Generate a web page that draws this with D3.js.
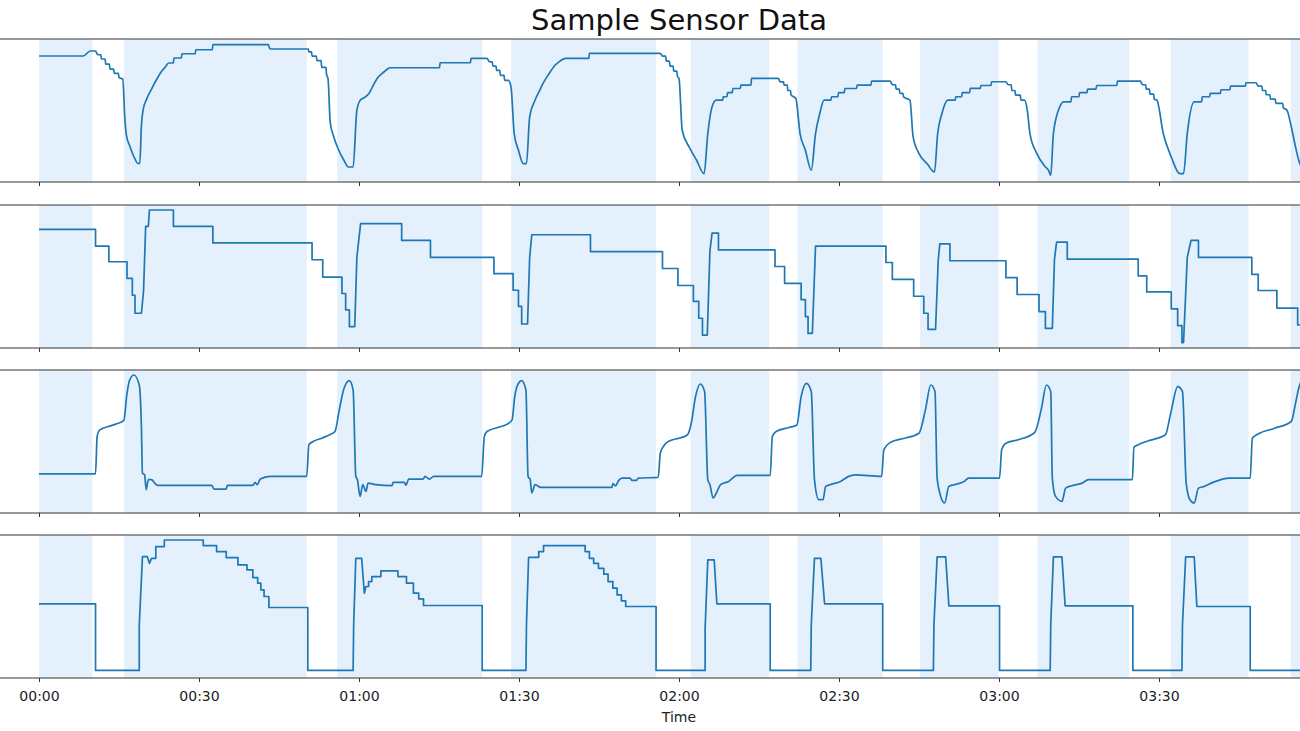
<!DOCTYPE html>
<html>
<head>
<meta charset="utf-8">
<script src="https://d3js.org/d3.v7.min.js"></script>
<style>
  body { margin: 0; background: #fff; }
  svg { display: block; font-family: "DejaVu Sans", sans-serif; }
</style>
</head>
<body>
<div id="chart"></div>
<script>

// time in minutes since 00:00, values in arbitrary sensor units (0-100)
var shadedSpans = [[0,10.0],[15.9,50.2],[55.9,83.1],[88.5,115.7],[122.2,136.9],[142.2,158.2],
                   [165.2,179.9],[187.2,204.4],[212.2,226.8],[234.7,240]];

var tickMinutes = [0, 30, 60, 90, 120, 150, 180, 210];
var tickLabels = ["00:00","00:30","01:00","01:30","02:00","02:30","03:00","03:30"];

var sensor1 = [[0,88.1],[8.3,88.1],[9.6,91.6],[10.6,91.6],[11.0,89],[11.6,89],[11.7,86],[12.4,86],[12.5,82.5],[13.2,82.5],[13.3,79],[14.0,79],[14.1,76],[14.9,76],[15.0,73],[15.7,72],
  [16.1,44],[16.4,32.4],[17.0,25.4],[18.0,16.1],[18.5,13.0],[18.9,13.0],
  [19.2,39.4],[19.5,49.9],[20.2,58.1],[21.1,65.0],[22.1,72.0],[23.0,77.4],[23.7,80.5],[24.3,83.2],[25.2,83.2],[25.3,86.7],[26.7,86.7],[26.8,89.7],[29.3,89.7],[29.4,92.5],[32.5,92.5],[32.6,96.0],[43.0,96.0],[43.3,93.0],[50.5,93.0],
  [50.6,91],[51.1,91],[51.2,88],[52.0,88],[52.1,84.9],[52.9,84.9],[53.0,80.2],[53.8,80.2],[53.9,75.6],[54.2,72.0],
  [54.6,41.7],[55.2,32.4],[56.1,23.1],[57.2,15],[58.0,10.5],[58.9,10.5],
  [59.6,50.2],[60.3,57.5],[61.0,59],[61.9,62],[62.6,67],[63.4,72.4],[64.2,75.5],[65.0,78],[65.8,79.9],[75.1,79.9],[75.2,83.4],[80.9,83.4],[81.0,86.4],[84.0,86.4],
  [84.5,84],[85.0,84],[85.1,81],[85.7,81],[85.8,78],[86.4,78],[86.5,74.5],[87.2,74.5],[87.3,71],[88.0,71],[88.5,66.6],
  [89.1,33.9],[89.9,22.2],[90.8,12.9],[91.4,12.9],
  [92.0,45.6],[93.0,57.2],[94.0,65],[94.5,68.9],[95.5,75],[96.8,81.8],[97.5,84],[98.8,86.4],[103.1,86.4],[103.2,90.0],[116.5,90.0],
  [116.9,88],[117.5,88],[117.6,84.5],[118.2,84.5],[118.3,81],[118.9,81],[119.0,77.5],[119.6,77.5],[119.7,74],[120.0,72.4],
  [120.6,36.2],[121.9,24.5],[123.3,15.2],[124.7,5.8],
  [125.4,33.9],[126.2,52.6],[127.0,57.2],[128.2,57.2],[128.3,59.6],[129.0,59.6],[129.1,62.5],[130.0,62.5],[130.1,65.4],[131.5,65.4],[131.6,67.8],[133.5,67.8],[133.6,72.4],[138.6,72.4],
  [139.0,70],[139.6,70],[139.7,67.8],[140.3,67.8],[140.4,64],[140.9,64],[141.0,61],[141.9,58.4],
  [142.7,33.9],[143.7,22.2],[144.8,8.2],
  [145.6,33.9],[146.4,47.9],[147.2,57.2],[148.5,57.2],[148.6,59.6],[149.8,59.6],[149.9,62.5],[151.0,62.5],[151.1,65.4],[153.3,65.4],[153.4,67.8],[156.0,67.8],[156.1,70.6],[159.6,70.6],
  [160.0,68],[160.6,68],[160.7,65],[161.3,65],[161.4,62],[162.0,62],[162.1,59.5],[163.3,57.2],
  [163.9,31.5],[165.0,19.9],[166.5,12.9],[167.9,7.0],
  [168.5,33.9],[169.3,47.9],[170.4,57.2],[171.8,57.2],[171.9,59.6],[173.0,59.6],[173.1,62.5],[174.5,62.5],[174.6,65.5],[176.5,65.5],[176.6,67.5],[178.5,67.5],[178.6,70.1],[181.3,70.1],
  [181.7,68],[182.3,68],[182.4,64],[183.0,64],[183.1,60.7],[184.0,60.7],[184.1,57.2],[184.8,57.2],[185.3,50.2],
  [185.8,33.9],[187.1,19.9],[188.7,10.5],[189.3,8],[189.7,4.7],
  [190.2,33.9],[191.4,52.6],[192.1,56.1],[193.5,56.1],[193.6,59.6],[195.0,59.6],[195.1,62.5],[196.5,62.5],[196.6,65],[198.2,65],[198.3,67.5],[202.1,67.5],[202.2,70.6],[206.5,70.6],
  [206.9,68],[207.5,68],[207.6,65],[208.2,65],[208.3,61.4],[209.0,61.4],[209.1,58],[209.6,57.2],
  [210.8,33.9],[212.3,17.5],[213.9,5.8],[214.6,5.8],
  [215.3,33.9],[216.6,56.1],[218.0,56.1],[218.1,59.6],[219.5,59.6],[219.6,62],[221.5,62],[221.6,64.5],[223.3,64.5],[223.4,67],[226.2,67],[226.3,69.4],[228.2,69.4],
  [228.6,67],[229.3,67],[229.4,64],[230.0,64],[230.1,61],[230.8,61],[230.9,58],[231.8,58],[231.9,55],[233.2,55],[233.3,52],[234.0,50.2],[234.8,38.6],[235.6,24.5],[236.2,15.2],[237,8]];

var sensor2 = [[0,83],[10.6,83],[10.6,71.2],[13.1,71.2],[13.1,60.3],[16.5,60.3],[16.5,48.7],[17.5,48.7],[17.5,36.9],[18.0,36.9],[18.0,24.3],[19.2,24.3],[19.6,39.7],[20.0,85.1],[20.5,85.1],[20.7,96.5],[25.2,96.5],[25.2,85.1],[32.6,85.1],[32.6,73.5],[51.2,73.5],[51.2,61.7],[53.2,61.7],[53.2,49.6],[56.8,49.6],[56.8,38.1],[57.5,38.1],[57.5,26.7],[58.2,26.7],[58.2,14.9],[59.2,14.9],[59.6,63.4],[60.3,87.0],[68.0,87.0],[68.0,75.2],[73.4,75.2],[73.4,63.4],[85.3,63.4],[85.3,52.0],[88.9,52.0],[88.9,40.4],[89.9,40.4],[89.9,29.1],[90.5,29.1],[90.5,16.8],[91.6,16.8],[92.0,63.4],[92.4,79.2],[103.4,79.2],[103.4,67.4],[116.9,67.4],[116.9,55.6],[119.8,55.6],[119.8,43.7],[122.7,43.7],[122.7,32.6],[123.7,32.6],[123.7,20.8],[124.4,20.8],[124.4,9.0],[125.3,9.0],[125.8,68.1],[126.2,80.4],[127.4,80.4],[127.4,68.6],[138.0,68.6],[138.0,57.0],[139.8,57.0],[139.8,45.2],[142.9,45.2],[142.9,33.8],[143.7,33.8],[143.7,22.0],[144.2,22.0],[144.2,10.2],[145.0,10.2],[145.6,71.2],[158.8,71.2],[158.8,59.8],[160.0,59.8],[160.0,48.0],[164.0,48.0],[164.0,36.2],[165.9,36.2],[165.9,24.3],[166.7,24.3],[166.7,13.0],[168.1,13.0],[168.6,61.0],[168.9,72.8],[170.8,72.8],[170.8,61.0],[181.3,61.0],[181.3,49.2],[183.4,49.2],[183.4,37.4],[187.5,37.4],[187.5,25.5],[188.7,25.5],[188.7,13.7],[190.0,13.7],[190.4,62.2],[190.8,74.0],[192.8,74.0],[192.8,62.2],[206.1,62.2],[206.1,50.4],[207.7,50.4],[207.7,39.2],[212.3,39.2],[212.3,27.4],[213.5,27.4],[213.5,15.6],[214.3,15.6],[214.3,3.8],[214.6,3.8],[215.3,63.4],[216.0,75.2],[217.4,75.2],[217.4,63.4],[227.4,63.4],[227.4,51.5],[228.6,51.5],[228.6,40.2],[232.1,40.2],[232.1,27.9],[236.0,27.9],[236.0,16.1],[240,16.1]];

var sensor3 = [[0,27.4],[10.6,27.4],[10.9,53.5],[11.4,58.1],[13.0,60.5],[14.5,62.3],[15.9,64.7],[16.5,83.7],[17.0,93.0],[17.8,96.5],[18.8,89.5],[19.2,60.5],[19.4,27.9],[19.8,26.7],[20.1,16.3],[20.5,23.3],[21.1,23.3],[21.7,20.9],[22.3,19.3],[32.4,19.3],[32.8,16.7],[35.1,16.7],[35.3,19.3],[40.1,19.3],[40.5,21.4],[40.9,19.8],[41.5,23.7],[43.3,25.6],[50.2,25.6],[50.6,47.7],[51.4,50.0],[53.0,52.3],[54.5,54.7],[55.5,57.0],[56.3,72.1],[57.2,87.2],[58.2,92.6],[58.9,86.0],[59.4,25.6],[59.7,23.3],[60.2,11.6],[60.7,19.8],[61.3,15.1],[61.7,20.9],[63.1,19.8],[66.2,19.1],[66.4,21.4],[68.5,21.4],[68.8,19.4],[69.3,23.7],[72.0,23.7],[72.4,25.6],[73.2,23.7],[74.0,25.6],[83.0,25.6],[83.5,53.5],[84.0,57.0],[86.0,59.8],[87.9,62.3],[88.7,65.1],[89.2,81.4],[89.9,90.7],[90.5,92.6],[91.3,86.0],[91.7,25.6],[92.1,23.3],[92.4,14.0],[93.0,19.8],[94.1,17.9],[107.4,17.9],[107.6,20.5],[108.1,19.0],[108.7,22.8],[109.3,24.4],[110.8,24.4],[111.2,22.8],[112.0,22.8],[112.4,24.4],[116.1,24.9],[116.5,41.9],[117.3,47.7],[118.4,50.7],[120.0,52.3],[121.6,54.7],[122.3,62.8],[123.1,81.4],[124.0,90.2],[124.8,84.9],[125.4,23.3],[125.8,19.8],[126.4,10.5],[127.0,14.0],[127.8,19.8],[129.3,22.1],[130.9,26.3],[137.1,26.3],[137.5,53.5],[138.2,57.0],[140.6,59.8],[142.1,61.6],[142.9,81.4],[143.9,90.7],[144.8,84.9],[145.4,23.3],[146.2,9.3],[147.0,9.3],[147.5,18.6],[148.3,19.8],[150.3,22.1],[151.8,25.6],[153.0,26.7],[158.0,25.6],[158.4,44.2],[159.6,49.3],[162.3,52.3],[165.0,55.8],[166.2,72.1],[167.2,89.5],[168.0,84.9],[168.4,24.4],[168.9,14.0],[169.8,7.0],[170.6,18.6],[171.6,19.8],[173.5,22.1],[174.3,24.4],[180.1,24.4],[180.5,44.2],[181.3,48.8],[183.6,51.2],[186.7,56.3],[187.9,72.1],[188.9,89.5],[189.7,84.9],[190.0,24.4],[190.6,11.6],[191.8,8.1],[192.5,17.4],[193.7,19.1],[195.6,20.9],[196.8,23.3],[205.0,23.3],[205.3,46.0],[206.1,47.7],[208.0,50.5],[211.2,54.7],[212.2,69.8],[213.5,88.4],[214.4,84.9],[215.1,20.9],[215.8,9.3],[216.6,7.0],[217.4,17.4],[218.5,18.6],[220.1,21.4],[223.2,24.4],[227.1,24.4],[227.5,52.3],[228.6,55.3],[231.7,59.3],[234.8,64.0],[235.6,76.7],[236.2,87.2],[237.0,95.0]];

var sensor4 = [[0,51.9],[10.6,51.9],[10.6,5.3],[18.8,5.3],[18.8,37.2],[19.4,84.9],[20.3,84.9],[20.7,80.2],[21.1,83.7],[21.9,83.7],[21.9,91.9],[23.5,91.9],[23.5,96.5],[30.8,96.5],[30.8,92.6],[33.3,92.6],[33.3,88.4],[35.1,88.4],[35.1,84.2],[37.3,84.2],[37.3,79.1],[39.0,79.1],[39.0,75.6],[40.1,75.6],[40.1,70.2],[41.0,70.2],[41.0,66.3],[41.6,66.3],[41.6,61.6],[42.2,61.6],[42.2,57.0],[43.1,57.0],[43.1,49.3],[50.4,49.3],[50.4,5.3],[58.9,5.3],[59.0,37.2],[59.4,83.7],[60.5,83.7],[61.0,59.3],[61.3,64.0],[61.8,64.0],[61.8,67.4],[62.4,67.4],[62.4,70.9],[64.1,70.9],[64.1,74.9],[67.3,74.9],[67.3,70.9],[68.9,70.9],[68.9,66.3],[70.2,66.3],[70.2,59.3],[71.2,59.3],[71.2,55.3],[72.1,55.3],[72.1,50.7],[83.1,50.7],[83.1,5.3],[91.3,5.3],[91.4,37.2],[91.8,84.4],[93.7,84.4],[93.7,88.4],[94.6,88.4],[94.6,92.6],[102.4,92.6],[102.4,88.4],[103.2,88.4],[103.2,83.7],[104.0,83.7],[104.0,80.2],[104.9,80.2],[104.9,76.7],[105.9,76.7],[105.9,72.6],[106.7,72.6],[106.7,67.4],[107.6,67.4],[107.6,62.8],[108.4,62.8],[108.4,58.1],[109.2,58.1],[109.2,54.0],[110.0,54.0],[110.0,50.0],[115.7,50.0],[115.7,5.3],[124.9,5.3],[124.9,34.9],[125.4,82.6],[126.6,82.6],[127.1,51.9],[137.1,51.9],[137.1,5.3],[144.7,5.3],[144.8,37.2],[145.4,83.7],[146.6,83.7],[147.3,51.9],[158.2,51.9],[158.2,5.3],[167.7,5.3],[167.8,37.2],[168.4,84.7],[170.0,84.7],[170.6,50.5],[180.1,50.5],[180.1,5.3],[189.6,5.3],[189.7,37.2],[190.2,84.7],[191.8,84.7],[192.4,50.5],[205.1,50.5],[205.1,5.3],[214.3,5.3],[214.4,37.2],[215.0,84.7],[216.6,84.7],[217.1,50.0],[227.1,50.0],[227.1,5.3],[240,5.3]];

var sensors = [sensor1, sensor2, sensor3, sensor4];
var smooth = [true, false, true, false];

// layout
var W = 1300, H = 731;
var panelTops = [39, 205, 370, 535];
var panelH = 143;

var svg = d3.select("#chart").append("svg")
    .attr("width", W)
    .attr("height", H);

var t0 = Date.UTC(2020, 0, 1, 0, 0);
function toDate(m) { return new Date(t0 + m * 60000); }

var x = d3.scaleUtc()
    .domain([toDate(0), toDate(240)])
    .range([39, 1319]);

var y = d3.scaleLinear()
    .domain([0, 100])
    .range([panelH, 0]);

svg.append("defs").append("clipPath")
    .attr("id", "clip")
  .append("rect")
    .attr("x", 39).attr("y", 0)
    .attr("width", 1280).attr("height", panelH);

sensors.forEach(function(data, i) {
  var g = svg.append("g")
      .attr("transform", "translate(0," + panelTops[i] + ")");

  // shaded spans
  g.selectAll("rect.span")
    .data(shadedSpans)
    .enter().append("rect")
      .attr("class", "span")
      .attr("x", function(d) { return x(toDate(d[0])); })
      .attr("width", function(d) { return x(toDate(d[1])) - x(toDate(d[0])); })
      .attr("y", 0)
      .attr("height", panelH)
      .style("fill", "#e4f1fc");

  var line = d3.line()
    .x(function(d) { return x(toDate(d[0])); })
    .y(function(d) { return y(d[1]); })
    .curve(smooth[i] ? d3.curveMonotoneX : d3.curveLinear);

  g.append("path")
    .datum(data)
    .attr("clip-path", "url(#clip)")
    .attr("d", line)
    .style("fill", "none")
    .style("stroke", "#1f77b4")
    .style("stroke-width", 1.7)
    .style("stroke-linejoin", "round");

  // top & bottom spines
  g.append("line")
    .attr("x1", 0).attr("x2", W)
    .attr("y1", 0).attr("y2", 0)
    .style("stroke", "#333").style("stroke-width", 1);

  var axis = d3.axisBottom(x)
    .tickValues(tickMinutes.map(toDate))
    .tickSize(4)
    .tickPadding(9)
    .tickFormat(function(d, j) { return i === 3 ? tickLabels[j] : ""; });

  var ax = g.append("g")
    .attr("transform", "translate(0," + panelH + ")")
    .call(axis);
  ax.select(".domain").remove();
  ax.selectAll(".tick line").style("stroke", "#333");
  ax.selectAll(".tick text")
    .style("font-family", "DejaVu Sans, sans-serif")
    .style("font-size", "14px")
    .style("fill", "#222");

  g.append("line")
    .attr("x1", 0).attr("x2", W)
    .attr("y1", panelH).attr("y2", panelH)
    .style("stroke", "#333").style("stroke-width", 1);
});

// title
svg.append("text")
  .attr("x", 679)
  .attr("y", 30)
  .attr("text-anchor", "middle")
  .style("font-size", "29px")
  .style("fill", "#111")
  .text("Sample Sensor Data");

// x label
svg.append("text")
  .attr("x", 679)
  .attr("y", 722)
  .attr("text-anchor", "middle")
  .style("font-size", "14px")
  .style("fill", "#222")
  .text("Time");

</script>
</body>
</html>
